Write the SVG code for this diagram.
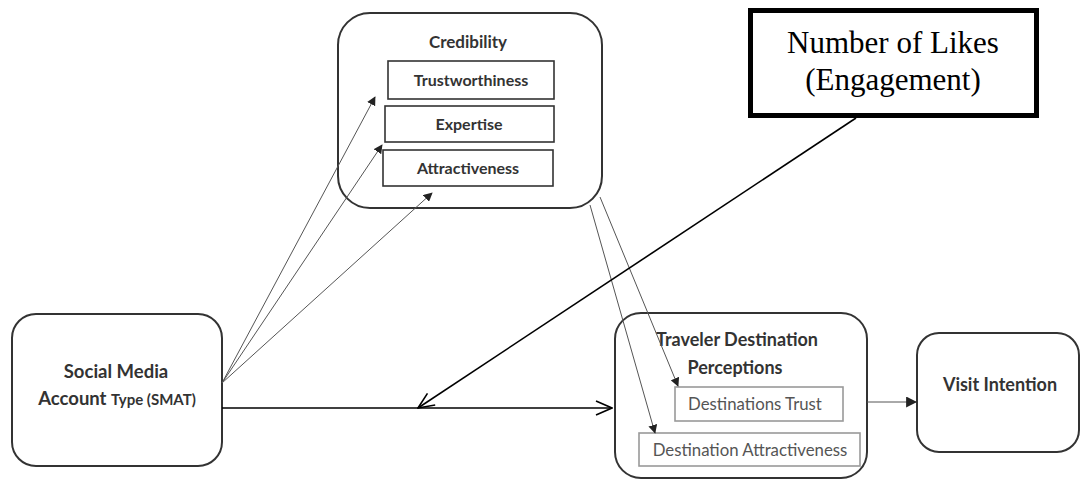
<svg xmlns="http://www.w3.org/2000/svg" width="1081" height="480" viewBox="0 0 1081 480">
<defs>
<style>
.rbox{fill:none;stroke:#333;stroke-width:2}
.ibox{fill:#fff;stroke:#333;stroke-width:1.6}
.gbox{fill:#fff;stroke:#999;stroke-width:1.6}
.bt{font-family:Lato,"Open Sans",sans-serif;font-weight:bold;fill:#333;text-anchor:middle}
.rt{font-family:Lato,"Open Sans",sans-serif;fill:#555;text-anchor:middle}
.thin{stroke:#555;stroke-width:1;fill:none}
.blk{stroke:#000;stroke-width:1.6;fill:none}
</style>
<marker id="fa" viewBox="0 0 10 10" refX="9" refY="5" markerWidth="9" markerHeight="9" markerUnits="userSpaceOnUse" orient="auto">
<path d="M0,0 L10,5 L0,10 z" fill="#222"/>
</marker>
<marker id="fb" viewBox="0 0 10 10" refX="9" refY="5" markerWidth="11" markerHeight="11" markerUnits="userSpaceOnUse" orient="auto">
<path d="M0,0 L10,5 L0,10 z" fill="#222"/>
</marker>
<marker id="open" viewBox="0 0 20 20" refX="19" refY="10" markerWidth="20" markerHeight="20" markerUnits="userSpaceOnUse" orient="auto">
<path d="M3,3 L19,10 L3,17" fill="none" stroke="#000" stroke-width="1.6"/>
</marker>
</defs>

<g id="credibility">
<rect class="rbox" x="338" y="13" width="264" height="195" rx="32"/>
<text class="bt" x="468" y="48" font-size="17">Credibility</text>
</g>
<g id="trustworthiness">
<rect class="ibox" x="388" y="61" width="166" height="38"/>
<text class="bt" x="471" y="86" font-size="16">Trustworthiness</text>
</g>
<g id="expertise">
<rect class="ibox" x="385" y="106" width="169" height="36"/>
<text class="bt" x="469" y="130" font-size="16">Expertise</text>
</g>
<g id="attractiveness">
<rect class="ibox" x="383" y="150" width="170" height="36"/>
<text class="bt" x="468" y="174" font-size="16">Attractiveness</text>
</g>

<g id="likes">
<rect x="750.5" y="10.5" width="286" height="105" fill="#fff" stroke="#000" stroke-width="5"/>
<text x="893" y="53" font-family="'Liberation Serif','Times New Roman',serif" font-size="31" text-anchor="middle" fill="#000">Number of Likes</text>
<text x="893" y="90" font-family="'Liberation Serif','Times New Roman',serif" font-size="31" text-anchor="middle" fill="#000">(Engagement)</text>
</g>

<g id="smat">
<rect class="rbox" x="12" y="314" width="210" height="152" rx="24"/>
<text class="bt" x="116" y="378" font-size="18.5">Social Media</text>
<text class="bt" x="117" y="405" font-size="18.5">Account <tspan font-size="15">Type (SMAT)</tspan></text>
</g>

<g id="traveler">
<rect class="rbox" x="615" y="313" width="252" height="165" rx="26"/>
<text class="bt" x="737" y="346" font-size="18">Traveler Destination</text>
<text class="bt" x="735" y="374" font-size="18">Perceptions</text>
</g>
<g id="dest-trust">
<rect class="gbox" x="675" y="387" width="168" height="34"/>
<text class="rt" x="755" y="410" font-size="16.8">Destinations Trust</text>
</g>
<g id="dest-attr">
<rect class="gbox" x="639" y="433" width="221" height="33"/>
<text class="rt" x="750" y="456" font-size="16.8">Destination Attractiveness</text>
</g>

<g id="visit">
<rect class="rbox" x="917" y="333" width="162" height="119" rx="22"/>
<text class="bt" x="1000" y="391" font-size="18">Visit Intention</text>
</g>

<g id="connectors">
<line class="thin" x1="222" y1="383" x2="375" y2="97" marker-end="url(#fa)"/>
<line class="thin" x1="222" y1="383" x2="382" y2="145" marker-end="url(#fa)"/>
<line class="thin" x1="222" y1="383" x2="432" y2="193" marker-end="url(#fa)"/>
<line class="thin" x1="600" y1="197" x2="678" y2="386" marker-end="url(#fa)"/>
<line class="thin" x1="590" y1="205" x2="655" y2="433" marker-end="url(#fa)"/>
<line class="thin" x1="867" y1="402" x2="916" y2="402" marker-end="url(#fb)"/>
<line class="blk" x1="222" y1="408" x2="612" y2="408" marker-end="url(#open)"/>
<line class="blk" x1="856" y1="118" x2="418" y2="408" marker-end="url(#open)"/>
</g>
</svg>
